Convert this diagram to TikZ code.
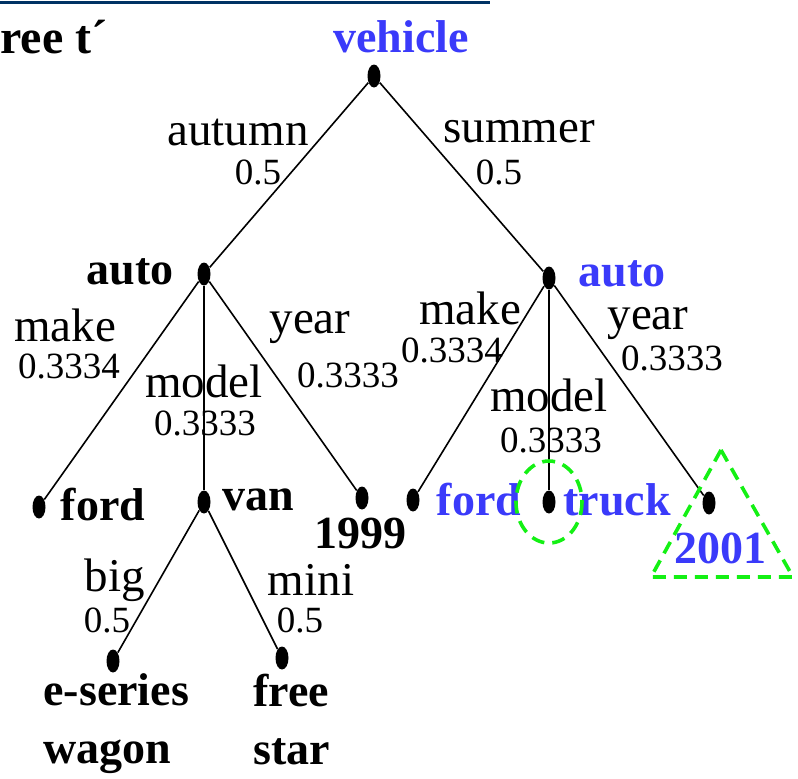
\documentclass[tikz,border=0pt]{standalone}
\usepackage{fontspec}
\setmainfont{Liberation Serif}
\usetikzlibrary{shapes.geometric}
\definecolor{vblue}{RGB}{58,58,250}
\definecolor{hgreen}{RGB}{20,240,20}
\definecolor{rulenavy}{RGB}{0,50,100}

\begin{document}
\begin{tikzpicture}[x=0.5pt,y=-0.5pt]
\tikzset{
  dot/.style={ellipse,fill=black,inner sep=0pt,minimum width=6.5pt,minimum height=11.5pt},
  vname/.style={font=\fontsize{23}{29}\selectfont\bfseries,inner sep=0pt},
  bname/.style={vname,text=vblue},
  attr/.style={font=\fontsize{23.5}{26}\selectfont,inner sep=0pt},
  wt/.style={font=\fontsize{18.5}{20}\selectfont,inner sep=0pt},
  branch/.style={line width=0.8pt},
  hilite/.style={draw=hgreen,line width=1.8pt,dash pattern=on 6.5pt off 4pt}
}
\useasboundingbox (0,0) rectangle (798,778);
\clip (0,0) rectangle (798,778);

% header rule and title
\draw[rulenavy,line width=1.5pt] (0,2) -- (490,2);
\node[vname,font=\fontsize{24}{29}\selectfont\bfseries,anchor=west] (title) at (0,37) {ree t´};

% tree nodes
\node[dot] (vehicle) at (374,76) {};
\node[dot] (autoL) at (204,274) {};
\node[dot] (autoR) at (549,278) {};
\node[dot] (fordL) at (39,507) {};
\node[dot] (van) at (204,502) {};
\node[dot] (y1999) at (362,498) {};
\node[dot] (fordR) at (413,500) {};
\node[dot] (truck) at (549,502) {};
\node[dot] (y2001) at (709,503) {};
\node[dot] (eseries) at (113,661) {};
\node[dot] (freestar) at (282,658) {};

% node names
\node[bname] (vehicleT) at (401,37) {vehicle};
\node[vname] (autoLT) at (130,272) {auto};
\node[bname] (autoRT) at (622,274) {auto};
\node[vname] (fordLT) at (103,505) {ford};
\node[vname] (vanT) at (258,500) {van};
\node[vname] (y1999T) at (360,533) {1999};
\node[bname] (fordRT) at (479,500) {ford};
\node[bname] (truckT) at (617,500) {truck};
\node[bname] (y2001T) at (720,548) {2001};
\node[vname,anchor=west,align=left] (eseriesT) at (43,724) {e-series\\wagon};
\node[vname,anchor=west,align=left] (freestarT) at (253,720) {free\\star};

% branches
\draw[branch] (vehicle) -- (autoL);
\draw[branch] (vehicle) -- (autoR);
\draw[branch] (autoL) -- (fordL);
\draw[branch] (autoL) -- (van);
\draw[branch] (autoL) -- (y1999);
\draw[branch] (autoR) -- (fordR);
\draw[branch] (autoR) -- (truck);
\draw[branch] (autoR) -- (y2001);
\draw[branch] (van) -- (eseries);
\draw[branch] (van) -- (freestar);

% attribute values and weights
\node[attr] (a1) at (238,132) {autumn};
\node[wt] (w1) at (258,172) {0.5};
\node[attr] (a2) at (519,132) {summer};
\node[wt] (w2) at (499,172) {0.5};
\node[attr] (a3) at (65,325) {make};
\node[wt] (w3) at (69,366) {0.3334};
\node[attr] (a4) at (204,381) {model};
\node[wt] (w4) at (205,423) {0.3333};
\node[attr] (a5) at (310,327) {year};
\node[wt] (w5) at (348,375) {0.3333};
\node[attr] (a6) at (470,308) {make};
\node[wt] (w6) at (452,350) {0.3334};
\node[attr] (a7) at (549,395) {model};
\node[wt] (w7) at (551,440) {0.3333};
\node[attr] (a8) at (648,323) {year};
\node[wt] (w8) at (672,358) {0.3333};
\node[attr] (a9) at (115,580) {big};
\node[wt] (w9) at (107,620) {0.5};
\node[attr] (a10) at (311,580) {mini};
\node[wt] (w10) at (300,620) {0.5};

% highlighted parts
\draw[hilite] (truck) ellipse (33 and 41);
\draw[hilite] (721,450) -- (651,577) -- (793,577) -- cycle;
\end{tikzpicture}
\end{document}
